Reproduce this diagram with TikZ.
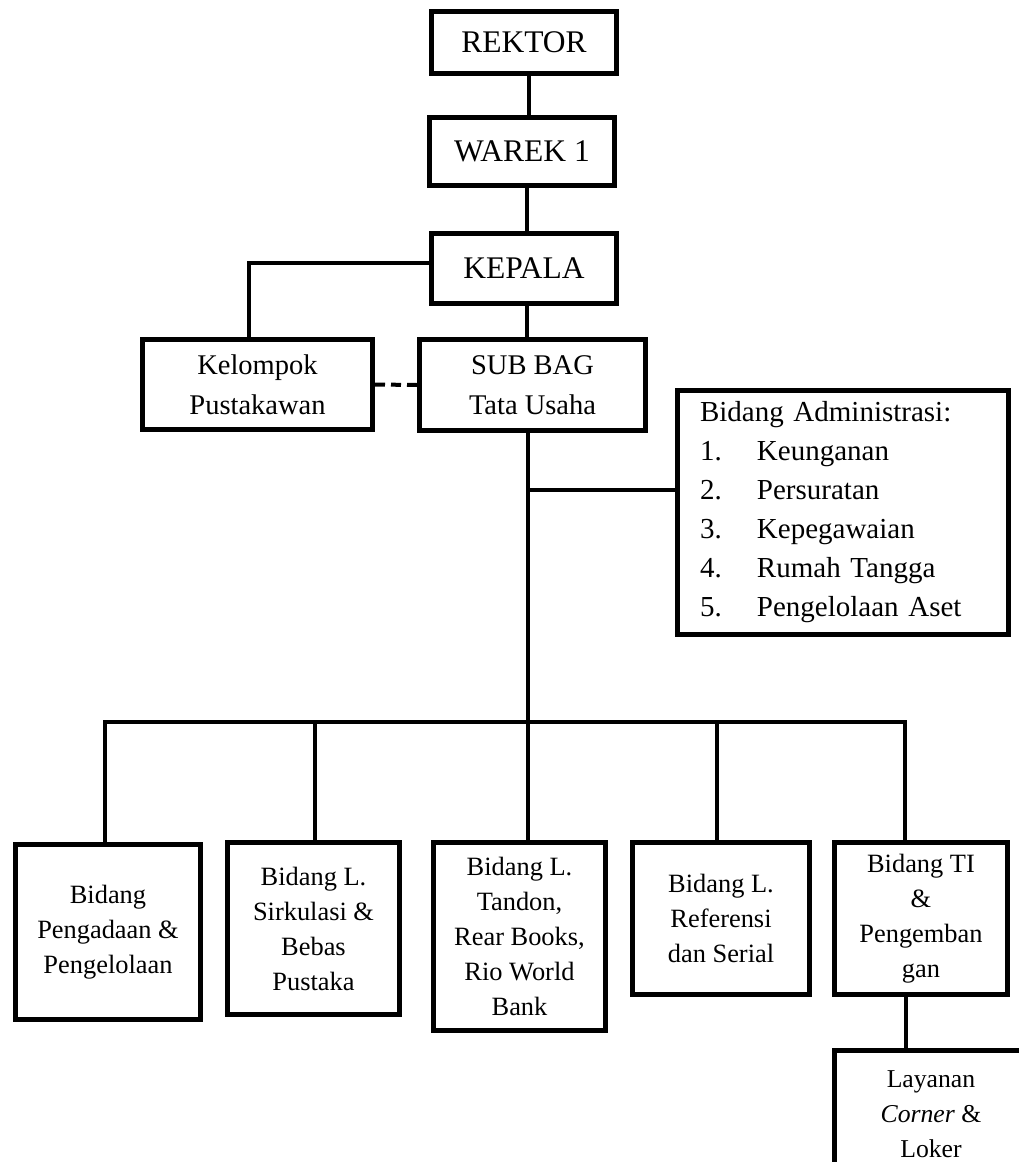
\documentclass[tikz,border=0pt]{standalone}
\usepackage{fontspec}
\setmainfont{Liberation Serif}
\begin{document}
\begin{tikzpicture}[x=1pt,y=-1pt,
  box/.style={draw, line width=5pt, inner sep=0pt, align=center, anchor=center},
  topfont/.style={font=\fontsize{31.5}{38}\selectfont},
  midfont/.style={font=\fontsize{28.5}{40}\selectfont},
  lowfont/.style={font=\fontsize{26.4}{35}\selectfont},
  conn/.style={line width=3.3pt, line join=miter}]
\clip (0,0) rectangle (1019,1162);
\fill[white] (0,0) rectangle (1019,1162);

% top chain
\node[box, topfont, minimum width=185pt, minimum height=62pt] (rektor) at (524,42.5) {REKTOR};
\node[box, topfont, minimum width=185pt, minimum height=68pt] (warek) at (522,151.5) {WAREK 1};
\node[box, topfont, minimum width=185pt, minimum height=70pt] (kepala) at (524,268.5) {KEPALA};

\node[box, midfont, minimum width=230pt, minimum height=90pt] (kelompok) at (257.5,384.5) {Kelompok\\Pustakawan};
\node[box, midfont, minimum width=226pt, minimum height=91pt] (subbag) at (532.5,385) {SUB BAG\\Tata Usaha};

\node[box, font=\fontsize{29}{39}\selectfont, align=left, text width=286pt, inner xsep=22.5pt,
      minimum height=244pt] (admin) at (843,512.5)
  {Bidang Administrasi:\\
   \makebox[57pt][l]{1.}Keunganan\\
   \makebox[57pt][l]{2.}Persuratan\\
   \makebox[57pt][l]{3.}Kepegawaian\\
   \makebox[57pt][l]{4.}Rumah Tangga\\
   \makebox[57pt][l]{5.}Pengelolaan Aset};

% bottom row
\node[box, lowfont, minimum width=185pt, minimum height=175pt] (b1) at (108,932) {Bidang\\Pengadaan \&\\Pengelolaan};
\node[box, lowfont, minimum width=172pt, minimum height=172pt] (b2) at (313.5,928.5) {Bidang L.\\Sirkulasi \&\\Bebas\\Pustaka};
\node[box, lowfont, minimum width=172pt, minimum height=188pt] (b3) at (519.5,936.5) {Bidang L.\\Tandon,\\Rear Books,\\Rio World\\Bank};
\node[box, lowfont, minimum width=177pt, minimum height=152pt] (b4) at (721,918.5) {Bidang L.\\Referensi\\dan Serial};
\node[box, lowfont, minimum width=173pt, minimum height=152pt] (b5) at (921,918.5) {Bidang TI\\\&\\Pengemban\\gan};
\node[box, font=\fontsize{25.7}{35}\selectfont, minimum width=193pt, minimum height=127pt] (layanan) at (931,1114) {Layanan\\\textit{Corner} \&\\Loker};

% connector coordinates
\coordinate (bus) at (528,722);
\coordinate (admj) at (528,490);
\coordinate (d1) at (105,722);
\coordinate (d2) at (315,722);
\coordinate (d4) at (717,722);
\coordinate (d5) at (905,722);

% connectors
\draw[conn] ([xshift=5pt]rektor.south) -- ([xshift=5pt]rektor.south |- warek.north);
\draw[conn] ([xshift=5pt]warek.south) -- ([xshift=5pt]warek.south |- kepala.north);
\draw[conn] ([xshift=3pt]kepala.south) -- ([xshift=3pt]kepala.south |- subbag.north);
\draw[conn] ([yshift=5.5pt]kepala.west) -| ([xshift=-8.5pt]kelompok.north);
\draw[line width=4pt, dash pattern=on 10pt off 6pt] (kelompok.east) -- (subbag.west);
\draw[conn] (subbag.south -| bus) -- (bus);
\draw[conn] (admj) -- (admj -| admin.west);
\draw[conn] (d1 |- b1.north) -- (d1) -- (d5) -- (d5 |- b5.north);
\draw[conn] (d2) -- (d2 |- b2.north);
\draw[conn] (bus) -- (bus |- b3.north);
\draw[conn] (d4) -- (d4 |- b4.north);
\draw[conn] ([xshift=-15pt]b5.south) -- ([xshift=-15pt]b5.south |- layanan.north);
\end{tikzpicture}
\end{document}
